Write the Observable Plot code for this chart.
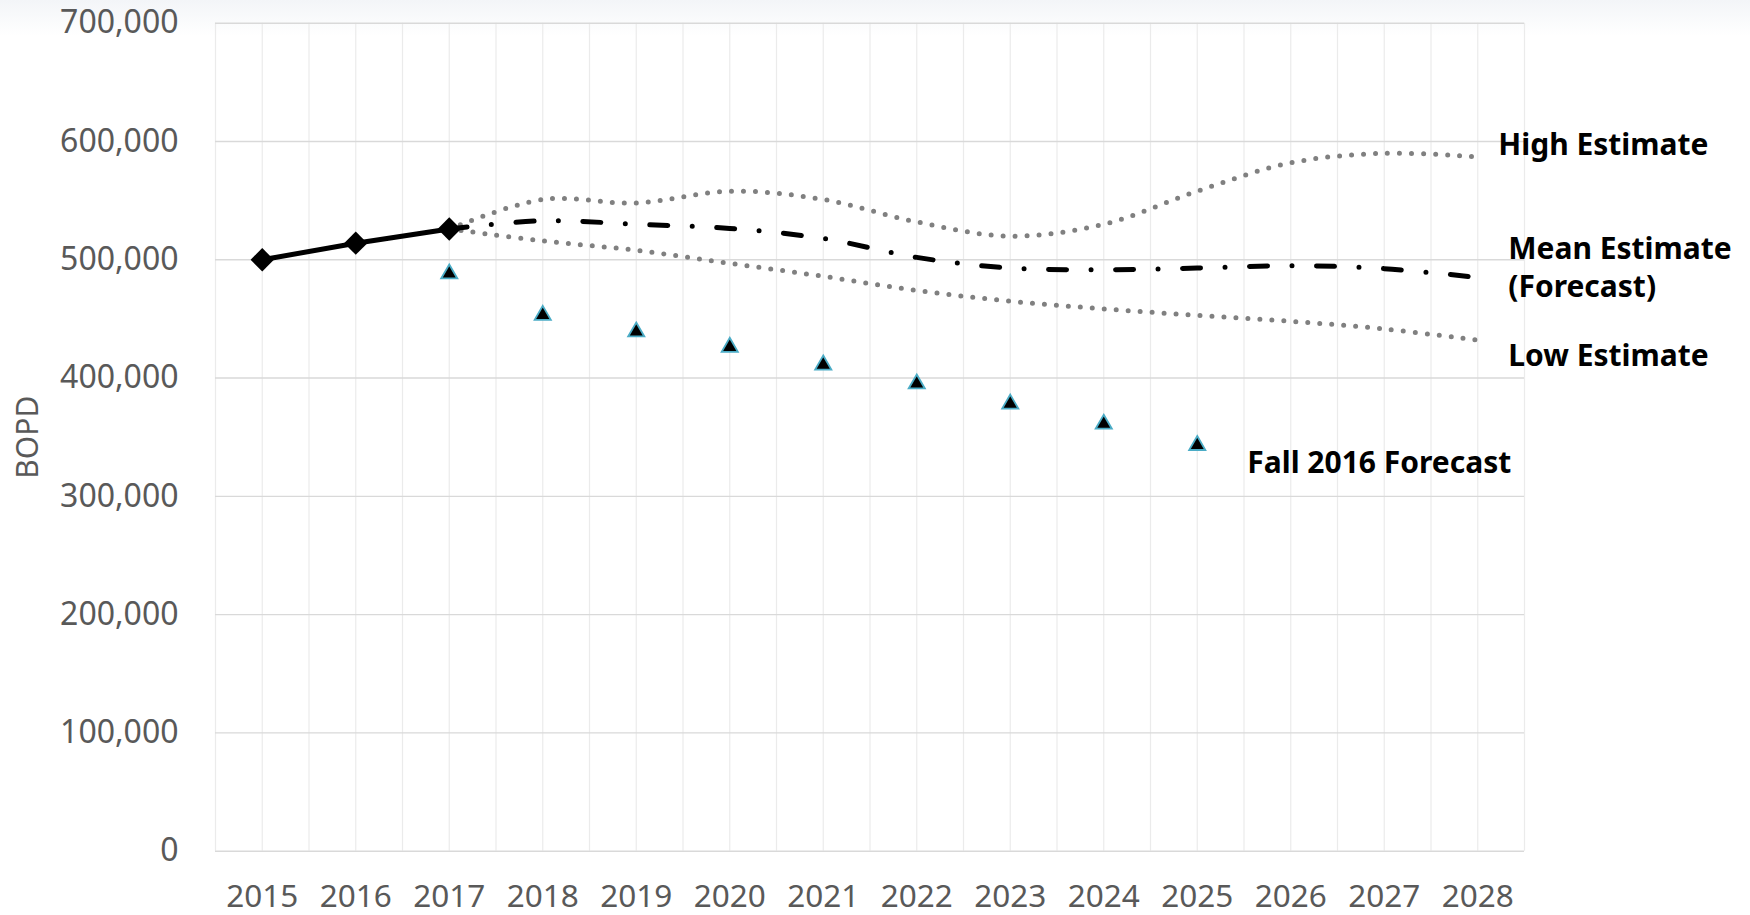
<!DOCTYPE html>
<html>
<head>
<meta charset="utf-8">
<script src="https://cdn.jsdelivr.net/npm/d3@7"></script>
<script src="https://cdn.jsdelivr.net/npm/@observablehq/plot@0.6"></script>
<style>
  html, body { margin: 0; padding: 0; }
  body { width: 1750px; height: 915px; background: linear-gradient(#f3f5f8 0px, #ffffff 36px); overflow: hidden; }
  #chart svg { display: block; }
</style>
</head>
<body>
<div id="chart"></div>
<script>
// ---- data ----
const years = [2015, 2016, 2017, 2018, 2019, 2020, 2021, 2022, 2023, 2024, 2025, 2026, 2027, 2028];

const historicalYears = [2015, 2016, 2017];
const historical = [500000, 514000, 526000];

const estimateYears = [2017, 2018, 2019, 2020, 2021, 2022, 2023, 2024, 2025, 2026, 2027, 2028];
const meanEstimate = [526000, 533000, 530000, 526500, 518000, 502000, 493000, 491500, 493000, 495000, 492500, 485000];
const highEstimate = [526000, 551000, 548000, 558000, 551000, 532000, 520000, 530000, 558000, 582000, 590000, 587000];
const lowEstimate  = [526000, 516000, 508000, 497000, 486000, 474000, 465000, 458500, 453000, 448000, 441500, 432000];

const fall2016Years = [2017, 2018, 2019, 2020, 2021, 2022, 2023, 2024, 2025];
const fall2016 = [490000, 455000, 441000, 428000, 413000, 397000, 380000, 363000, 345000];

const yTicks = [0, 100000, 200000, 300000, 400000, 500000, 600000, 700000];
const xTicks = years;

const yLabel = "BOPD";
const labelHigh = "High Estimate";
const labelMean = "Mean Estimate\n(Forecast)";
const labelLow = "Low Estimate";
const labelFall = "Fall 2016 Forecast";

// ---- derived tables ----
const toRows = (xs, ys) => xs.map((x, i) => ({x, y: ys[i]}));
const histRows = toRows(historicalYears, historical);
const meanRows = toRows(estimateYears, meanEstimate);
const highRows = toRows(estimateYears, highEstimate);
const lowRows = toRows(estimateYears, lowEstimate);
const fallRows = toRows(fall2016Years, fall2016);
// vertical gridlines at category centres and category boundaries
const xGrid = years.flatMap(y => [y - 0.5, y]).concat([years[years.length - 1] + 0.5]);

const lastX = estimateYears[estimateYears.length - 1];
const lastFallX = fall2016Years[fall2016Years.length - 1];

const labelStyle = {fontFamily: "Noto Sans", fontWeight: "bold", fontSize: 30, fill: "#000000", textAnchor: "start", lineAnchor: "top"};

const chart = Plot.plot({
  width: 1750,
  height: 915,
  marginTop: 22.7,
  marginBottom: 64.3,
  marginLeft: 215,
  marginRight: 226,
  x: {type: "linear", domain: [years[0] - 0.5, years[years.length - 1] + 0.5]},
  y: {domain: [yTicks[0], yTicks[yTicks.length - 1]]},
  style: {background: "transparent", fontFamily: "Noto Sans", overflow: "visible"},
  marks: [
    Plot.gridX(xGrid, {stroke: "#ebebeb", strokeOpacity: 1, strokeWidth: 1.2}),
    Plot.gridY(yTicks.slice(1), {stroke: "#d9d9d9", strokeOpacity: 1, strokeWidth: 1.4}),
    Plot.ruleY([yTicks[0]], {stroke: "#d9d9d9", strokeWidth: 1.6}),
    Plot.axisY(yTicks, {tickSize: 0, tickPadding: 37, tickFormat: d3.format(","), fontSize: 32, fill: "#595959", label: null}),
    Plot.axisX(xTicks, {tickSize: 0, tickPadding: 33, tickFormat: d => String(d), fontSize: 31.5, fill: "#595959", label: null}),
    Plot.text([yLabel], {frameAnchor: "left", dx: -187, rotate: -90, fontSize: 30, fill: "#595959", textAnchor: "middle", lineAnchor: "middle"}),

    Plot.line(highRows, {x: "x", y: "y", curve: "catmull-rom", stroke: "#808080", strokeWidth: 5, strokeDasharray: "0,12", strokeLinecap: "round"}),
    Plot.line(lowRows, {x: "x", y: "y", curve: "catmull-rom", stroke: "#808080", strokeWidth: 5, strokeDasharray: "0,12", strokeLinecap: "round"}),
    Plot.line(meanRows, {x: "x", y: "y", curve: "catmull-rom", stroke: "#000000", strokeWidth: 5, strokeDasharray: "18,24.5,0,24.5", strokeLinecap: "round"}),

    Plot.line(histRows, {x: "x", y: "y", stroke: "#000000", strokeWidth: 5}),
    Plot.dot(histRows, {x: "x", y: "y", symbol: "diamond2", r: 10.5, fill: "#000000", stroke: "none"}),

    Plot.dot(fallRows, {x: "x", y: "y", symbol: "triangle", r: 6, fill: "#000000", stroke: "#4bacc6", strokeWidth: 1.8, dy: 2.2}),

    Plot.text([labelHigh], {x: () => lastX, y: () => highEstimate[highEstimate.length - 1], dx: 20.5, dy: -23, ...labelStyle}),
    Plot.text([labelMean], {x: () => lastX, y: () => meanEstimate[meanEstimate.length - 1], dx: 30.5, dy: -46, lineHeight: 1.27, ...labelStyle}),
    Plot.text([labelLow], {x: () => lastX, y: () => lowEstimate[lowEstimate.length - 1], dx: 30.5, dy: 4, ...labelStyle}),
    Plot.text([labelFall], {x: () => lastFallX, y: () => fall2016[fall2016.length - 1], dx: 50, dy: 9, letterSpacing: "0.4px", ...labelStyle})
  ]
});

document.getElementById("chart").appendChild(chart);
</script>
</body>
</html>
